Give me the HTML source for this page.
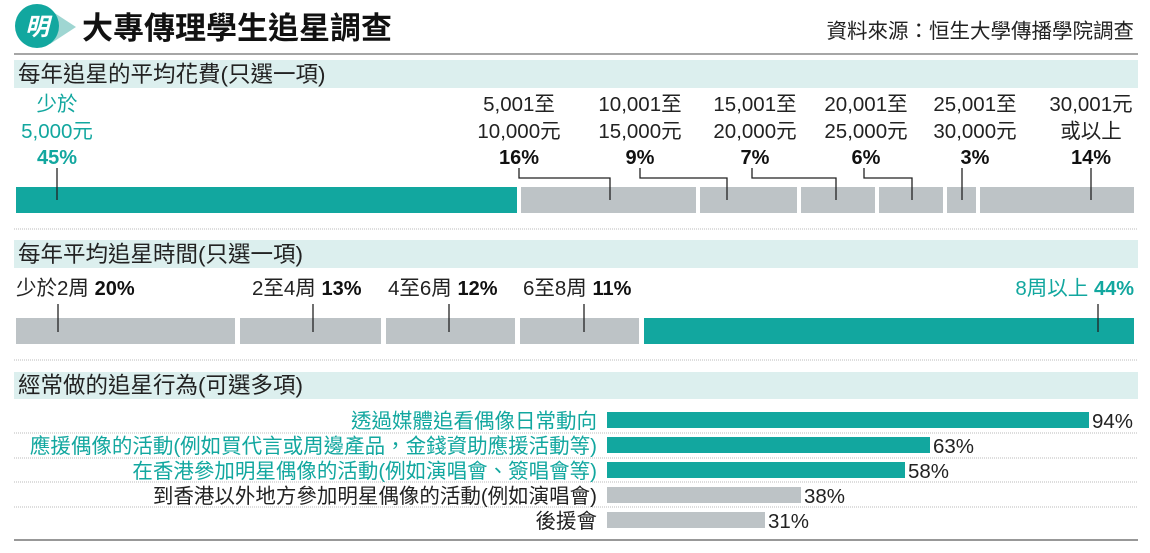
<!DOCTYPE html>
<html><head><meta charset="utf-8"><style>
body{margin:0;background:#fff;}
svg{display:block;font-family:"Liberation Sans","Noto Sans CJK TC",sans-serif;}
.t{font-size:20.5px;fill:#222;}
.b{font-size:20px;font-weight:bold;fill:#111;}
.h{font-size:22.5px;fill:#222;}
.tl{fill:#12a79f;}
</style></head><body>
<svg width="1150" height="553" viewBox="0 0 1150 553" xmlns="http://www.w3.org/2000/svg">
<path d="M50 10 L76 27 L50 44 Z" fill="#9fd6d2"/>
<circle cx="37" cy="26" r="22" fill="#12a79f"/>
<text x="37" y="35" font-size="24" font-weight="bold" fill="#fff" text-anchor="middle" font-style="italic">明</text>
<text x="82" y="39" font-size="31" font-weight="bold" fill="#111">大專傳理學生追星調查</text>
<text x="1134" y="38" class="t" text-anchor="end">資料來源：恒生大學傳播學院調查</text>
<line x1="14" y1="54" x2="1138" y2="54" stroke="#888" stroke-width="1.5"/>

<rect x="14" y="60" width="1124" height="28" fill="#dcefee"/>
<text x="18" y="82" class="h">每年追星的平均花費(只選一項)</text>
<g text-anchor="middle">
<text x="57" y="111" class="t tl">少於</text>
<text x="57" y="138" class="t tl">5,000元</text>
<text x="57" y="164" class="b tl">45%</text>
<text x="519" y="111" class="t">5,001至</text><text x="519" y="138" class="t">10,000元</text><text x="519" y="164" class="b">16%</text>
<text x="640" y="111" class="t">10,001至</text><text x="640" y="138" class="t">15,000元</text><text x="640" y="164" class="b">9%</text>
<text x="755" y="111" class="t">15,001至</text><text x="755" y="138" class="t">20,000元</text><text x="755" y="164" class="b">7%</text>
<text x="866" y="111" class="t">20,001至</text><text x="866" y="138" class="t">25,000元</text><text x="866" y="164" class="b">6%</text>
<text x="975" y="111" class="t">25,001至</text><text x="975" y="138" class="t">30,000元</text><text x="975" y="164" class="b">3%</text>
<text x="1091" y="111" class="t">30,001元</text><text x="1091" y="138" class="t">或以上</text><text x="1091" y="164" class="b">14%</text>
</g>
<rect x="16" y="187" width="501" height="26" fill="#12a79f"/>
<g fill="#bdc3c6">
<rect x="521" y="187" width="175" height="26"/>
<rect x="700" y="187" width="97" height="26"/>
<rect x="801" y="187" width="74" height="26"/>
<rect x="879" y="187" width="64" height="26"/>
<rect x="947" y="187" width="29" height="26"/>
<rect x="980" y="187" width="154" height="26"/>
</g>
<g stroke="#222" stroke-width="1.3" fill="none">
<line x1="57" y1="168" x2="57" y2="200"/>
<polyline points="519,168 519,178 610,178 610,200"/>
<polyline points="640,168 640,178 727,178 727,200"/>
<polyline points="752,168 752,178 836,178 836,200"/>
<polyline points="864,168 864,178 912,178 912,200"/>
<line x1="962" y1="168" x2="962" y2="200"/>
<line x1="1091" y1="168" x2="1091" y2="200"/>
</g>
<line x1="14" y1="229" x2="1138" y2="229" stroke="#bbb" stroke-dasharray="1,1"/>

<rect x="14" y="240" width="1124" height="28" fill="#dcefee"/>
<text x="18" y="262" class="h">每年平均追星時間(只選一項)</text>
<text x="16" y="295" class="t">少於2周 <tspan class="b">20%</tspan></text>
<text x="252" y="295" class="t">2至4周 <tspan class="b">13%</tspan></text>
<text x="388" y="295" class="t">4至6周 <tspan class="b">12%</tspan></text>
<text x="523" y="295" class="t">6至8周 <tspan class="b">11%</tspan></text>
<text x="1134" y="295" class="t tl" text-anchor="end">8周以上 <tspan class="b tl">44%</tspan></text>
<g fill="#bdc3c6">
<rect x="16" y="318" width="219" height="26"/>
<rect x="240" y="318" width="141" height="26"/>
<rect x="386" y="318" width="129" height="26"/>
<rect x="520" y="318" width="119" height="26"/>
</g>
<rect x="644" y="318" width="490" height="26" fill="#12a79f"/>
<g stroke="#222" stroke-width="1.3">
<line x1="58" y1="304" x2="58" y2="332"/>
<line x1="313" y1="304" x2="313" y2="332"/>
<line x1="449" y1="304" x2="449" y2="332"/>
<line x1="584" y1="304" x2="584" y2="332"/>
<line x1="1098" y1="304" x2="1098" y2="332"/>
</g>
<line x1="14" y1="360" x2="1138" y2="360" stroke="#bbb" stroke-dasharray="1,1"/>

<rect x="14" y="372" width="1124" height="27" fill="#dcefee"/>
<text x="18" y="393" class="h">經常做的追星行為(可選多項)</text>
<g stroke="#bbb" stroke-dasharray="1,1">
<line x1="14" y1="433" x2="1138" y2="433"/>
<line x1="14" y1="458" x2="1138" y2="458"/>
<line x1="14" y1="482" x2="1138" y2="482"/>
<line x1="14" y1="507" x2="1138" y2="507"/>
</g>
<g text-anchor="end">
<text x="597" y="428" class="t tl">透過媒體追看偶像日常動向</text>
<text x="597" y="453" class="t tl">應援偶像的活動(例如買代言或周邊產品，金錢資助應援活動等)</text>
<text x="597" y="478" class="t tl">在香港參加明星偶像的活動(例如演唱會、簽唱會等)</text>
<text x="597" y="503" class="t">到香港以外地方參加明星偶像的活動(例如演唱會)</text>
<text x="597" y="528" class="t">後援會</text>
</g>
<rect x="607" y="412" width="482" height="16" fill="#12a79f"/>
<rect x="607" y="437" width="323" height="16" fill="#12a79f"/>
<rect x="607" y="462" width="298" height="16" fill="#12a79f"/>
<rect x="607" y="487" width="194" height="16" fill="#bdc3c6"/>
<rect x="607" y="512" width="158" height="16" fill="#bdc3c6"/>
<text x="1092" y="428" class="t">94%</text>
<text x="933" y="453" class="t">63%</text>
<text x="908" y="478" class="t">58%</text>
<text x="804" y="503" class="t">38%</text>
<text x="768" y="528" class="t">31%</text>
<line x1="14" y1="540" x2="1138" y2="540" stroke="#777" stroke-width="1.5"/>
</svg>
</body></html>
